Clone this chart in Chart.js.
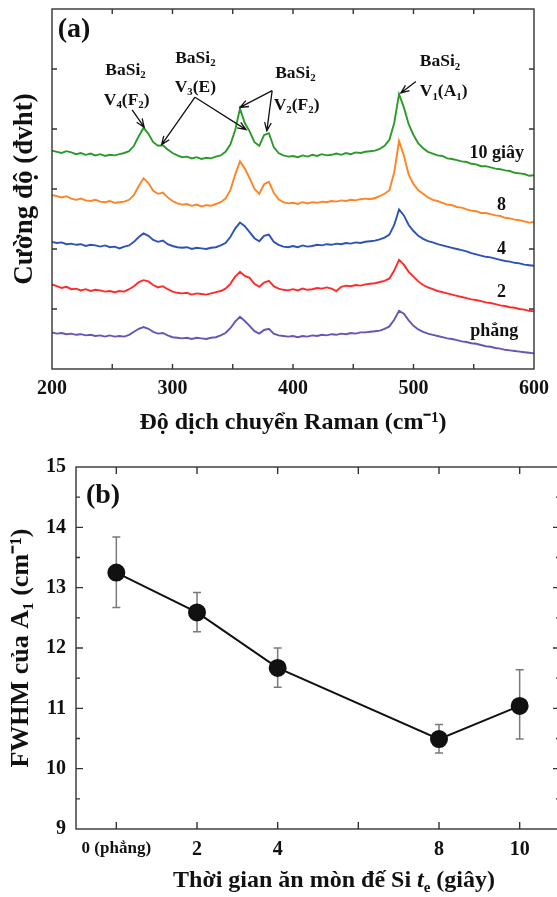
<!DOCTYPE html>
<html>
<head>
<meta charset="utf-8">
<script src="https://cdn.jsdelivr.net/npm/chart.js"></script>
<style>
  html, body { margin: 0; padding: 0; background: #fff; overflow: hidden; width: 557px; height: 897px; }
  #chartA { position: absolute; left: 0; top: 0; }
  #chartB { position: absolute; left: 0; top: 445px; }
</style>
</head>
<body>
<canvas id="chartA" width="557" height="445"></canvas>
<canvas id="chartB" width="575" height="452"></canvas>
<script>
// ---- panel (a): Raman spectra ----
const ramanShift = [
  200,204,208,212,216,220,224,228,232,236,
  240,244,248,252,256,260,264,268,272,276,
  280,284,288,292,296,300,304,308,312,316,
  320,324,328,332,336,340,344,348,352,356,
  360,364,368,372,376,380,384,388,392,396,
  400,404,408,412,416,420,424,428,432,436,
  440,444,448,452,456,460,464,468,472,476,
  480,484,488,492,496,500,504,508,512,516,
  520,524,528,532,536,540,544,548,552,556,
  560,564,568,572,576,580,584,588,592,596,
  600
];
const int10s = [
  3.64,3.62,3.60,3.63,3.61,3.58,3.60,3.57,3.59,3.56,
  3.58,3.55,3.57,3.56,3.58,3.60,3.63,3.72,3.88,4.02,
  3.92,3.78,3.72,3.73,3.66,3.60,3.56,3.53,3.54,3.51,
  3.53,3.50,3.52,3.51,3.54,3.56,3.62,3.74,3.98,4.34,
  4.10,3.96,3.78,3.72,3.90,3.93,3.70,3.60,3.56,3.54,
  3.55,3.53,3.56,3.54,3.57,3.55,3.58,3.56,3.57,3.59,
  3.57,3.60,3.58,3.61,3.60,3.62,3.63,3.64,3.67,3.72,
  3.82,4.10,4.58,4.36,4.08,3.90,3.76,3.68,3.62,3.59,
  3.56,3.55,3.51,3.50,3.48,3.46,3.45,3.42,3.41,3.38,
  3.38,3.36,3.34,3.33,3.31,3.30,3.27,3.26,3.25,3.22,
  3.23
];
const int8s = [
  2.90,2.88,2.86,2.88,2.84,2.82,2.84,2.81,2.80,2.82,
  2.79,2.78,2.80,2.77,2.78,2.79,2.82,2.90,3.05,3.18,
  3.10,2.97,2.92,2.94,2.86,2.80,2.76,2.74,2.75,2.72,
  2.74,2.71,2.73,2.72,2.75,2.78,2.84,2.98,3.24,3.46,
  3.34,3.18,3.00,2.92,3.08,3.12,2.94,2.83,2.78,2.76,
  2.77,2.75,2.78,2.76,2.78,2.77,2.79,2.78,2.80,2.79,
  2.81,2.80,2.82,2.81,2.83,2.84,2.83,2.85,2.88,2.92,
  2.98,3.28,3.80,3.56,3.24,3.08,2.98,2.92,2.86,2.82,
  2.80,2.77,2.74,2.73,2.70,2.69,2.66,2.64,2.63,2.60,
  2.60,2.58,2.56,2.55,2.52,2.51,2.49,2.48,2.46,2.44,
  2.45
];
const int4s = [
  2.12,2.10,2.11,2.08,2.09,2.07,2.08,2.05,2.07,2.06,
  2.04,2.06,2.03,2.04,2.01,2.04,2.06,2.12,2.20,2.26,
  2.22,2.15,2.12,2.14,2.08,2.05,2.03,2.02,2.03,2.00,
  2.02,2.01,2.00,2.02,2.03,2.06,2.10,2.20,2.34,2.44,
  2.38,2.28,2.18,2.13,2.22,2.24,2.12,2.07,2.04,2.03,
  2.05,2.03,2.06,2.04,2.05,2.07,2.06,2.08,2.07,2.09,
  2.08,2.10,2.09,2.11,2.10,2.12,2.13,2.14,2.16,2.19,
  2.24,2.40,2.66,2.56,2.40,2.30,2.22,2.17,2.13,2.11,
  2.08,2.06,2.04,2.02,2.00,1.98,1.96,1.93,1.91,1.89,
  1.87,1.86,1.84,1.82,1.80,1.79,1.77,1.76,1.74,1.73,
  1.72
];
const int2s = [
  1.41,1.38,1.35,1.37,1.33,1.34,1.31,1.33,1.30,1.32,
  1.31,1.29,1.30,1.28,1.30,1.29,1.33,1.38,1.45,1.48,
  1.46,1.40,1.36,1.38,1.33,1.29,1.27,1.26,1.27,1.24,
  1.26,1.25,1.24,1.26,1.28,1.30,1.34,1.42,1.54,1.62,
  1.55,1.52,1.42,1.37,1.44,1.47,1.38,1.34,1.32,1.31,
  1.33,1.31,1.34,1.32,1.33,1.35,1.34,1.36,1.34,1.30,
  1.37,1.39,1.38,1.40,1.39,1.41,1.42,1.43,1.45,1.47,
  1.51,1.64,1.82,1.74,1.62,1.54,1.46,1.40,1.36,1.33,
  1.30,1.28,1.26,1.24,1.22,1.20,1.18,1.16,1.15,1.13,
  1.11,1.10,1.08,1.06,1.05,1.03,1.02,1.00,0.99,0.97,
  0.96
];
const intFlat = [
  0.61,0.59,0.60,0.58,0.59,0.57,0.58,0.56,0.57,0.55,
  0.56,0.54,0.56,0.54,0.55,0.54,0.57,0.62,0.67,0.70,
  0.67,0.62,0.59,0.60,0.56,0.53,0.52,0.51,0.52,0.50,
  0.52,0.51,0.50,0.52,0.53,0.56,0.60,0.68,0.79,0.87,
  0.80,0.72,0.63,0.59,0.65,0.67,0.59,0.56,0.55,0.54,
  0.55,0.53,0.55,0.54,0.56,0.55,0.57,0.56,0.58,0.57,
  0.59,0.58,0.60,0.59,0.61,0.61,0.62,0.63,0.64,0.67,
  0.71,0.82,0.97,0.92,0.81,0.72,0.66,0.62,0.59,0.57,
  0.55,0.53,0.51,0.50,0.48,0.46,0.45,0.43,0.42,0.40,
  0.38,0.37,0.35,0.34,0.32,0.31,0.30,0.29,0.28,0.27,
  0.26
];
const seriesNames = ['10 giây', '8', '4', '2', 'phẳng'];
const seriesValues = [int10s, int8s, int4s, int2s, intFlat];
const seriesColors = ['#2b9a2b', '#ff8424', '#2a52b8', '#ff2a2a', '#6a52b6'];

// ---- panel (b): FWHM of A1 ----
const etchTime = [0, 2, 4, 8, 10];
const fwhm = [13.25, 12.59, 11.67, 10.49, 11.04];
const fwhmHigh = [13.84, 12.92, 12.00, 10.73, 11.64];
const fwhmLow = [12.67, 12.27, 11.35, 10.26, 10.49];
const etchTicks = [0, 2, 4, 6, 8, 10];

const serif = "'Liberation Serif', 'Times New Roman', serif";
const ink = '#111';

function drawRich(ctx, segs, cx, cy, size, rot) {
  const fontOf = m => {
    const sz = (m === 'sub' || m === 'sup') ? size * 0.62 : size;
    return (m === 'it' ? 'italic ' : '') + 'bold ' + sz + 'px ' + serif;
  };
  let total = 0;
  segs.forEach(s => { ctx.font = fontOf(s[1]); total += ctx.measureText(s[0]).width; });
  ctx.save();
  ctx.translate(cx, cy);
  if (rot) ctx.rotate(rot);
  ctx.textBaseline = 'middle';
  ctx.textAlign = 'left';
  ctx.fillStyle = ink;
  let x = -total / 2;
  segs.forEach(s => {
    ctx.font = fontOf(s[1]);
    const dy = s[1] === 'sub' ? size * 0.3 : (s[1] === 'sup' ? -size * 0.35 : 0);
    ctx.fillText(s[0], x, dy);
    x += ctx.measureText(s[0]).width;
  });
  ctx.restore();
}

function drawArrow(ctx, x1, y1, x2, y2) {
  const ang = Math.atan2(y2 - y1, x2 - x1);
  const len = 9, spread = 0.38;
  ctx.beginPath();
  ctx.moveTo(x1, y1);
  ctx.lineTo(x2, y2);
  ctx.moveTo(x2 - len * Math.cos(ang - spread), y2 - len * Math.sin(ang - spread));
  ctx.lineTo(x2, y2);
  ctx.lineTo(x2 - len * Math.cos(ang + spread), y2 - len * Math.sin(ang + spread));
  ctx.stroke();
}

// box and inward ticks
function drawFrame(chart, xVals, yMajor, yMinor, majorLen, minorLen) {
  const { ctx, chartArea: a, scales: { x, y } } = chart;
  ctx.save();
  ctx.strokeStyle = '#333';
  ctx.lineWidth = 1.4;
  ctx.strokeRect(a.left, a.top, a.right - a.left, a.bottom - a.top);
  ctx.beginPath();
  xVals.forEach(v => {
    const px = x.getPixelForValue(v);
    ctx.moveTo(px, a.bottom); ctx.lineTo(px, a.bottom - majorLen);
    ctx.moveTo(px, a.top); ctx.lineTo(px, a.top + majorLen);
  });
  yMajor.forEach(v => {
    const py = y.getPixelForValue(v);
    ctx.moveTo(a.left, py); ctx.lineTo(a.left + majorLen, py);
    ctx.moveTo(a.right, py); ctx.lineTo(a.right - majorLen, py);
  });
  yMinor.forEach(v => {
    const py = y.getPixelForValue(v);
    ctx.moveTo(a.left, py); ctx.lineTo(a.left + minorLen, py);
    ctx.moveTo(a.right, py); ctx.lineTo(a.right - minorLen, py);
  });
  ctx.stroke();
  ctx.restore();
}

const peakLabels = [
  { x: 261, y: 4.98, segs: [['BaSi'], ['2', 'sub']] },
  { x: 262, y: 4.48, segs: [['V'], ['4', 'sub'], ['(F'], ['2', 'sub'], [')']] },
  { x: 319, y: 5.18, segs: [['BaSi'], ['2', 'sub']] },
  { x: 319, y: 4.70, segs: [['V'], ['3', 'sub'], ['(E)']] },
  { x: 402, y: 4.93, segs: [['BaSi'], ['2', 'sub']] },
  { x: 403, y: 4.40, segs: [['V'], ['2', 'sub'], ['(F'], ['2', 'sub'], [')']] },
  { x: 522, y: 5.12, segs: [['BaSi'], ['2', 'sub']] },
  { x: 525, y: 4.62, segs: [['V'], ['1', 'sub'], ['(A'], ['1', 'sub'], [')']] }
];
const peakArrows = [
  [266.5, 4.32, 276.5, 4.03],
  [318.7, 4.53, 291, 3.74],
  [318.7, 4.53, 361, 3.99],
  [382.7, 4.64, 356, 4.36],
  [382.7, 4.64, 378.3, 3.97],
  [502, 4.79, 489.5, 4.60]
];
const seriesLabelPos = [[569, 3.60], [573, 2.73], [573, 2.00], [573, 1.27], [567, 0.62]];

const frameA = {
  id: 'frameA',
  afterDraw(chart) {
    const { ctx, scales: { x, y } } = chart;
    drawFrame(chart, [250, 300, 350, 400, 450, 500, 550], [1, 2, 3, 4, 5], [], 5, 0);
    ctx.save();
    ctx.fillStyle = ink;
    ctx.font = 'bold 28px ' + serif;
    ctx.textAlign = 'center';
    ctx.textBaseline = 'middle';
    ctx.fillText('(a)', 74, 30);
    peakLabels.forEach(l => drawRich(ctx, l.segs, x.getPixelForValue(l.x), y.getPixelForValue(l.y), 17.5));
    ctx.strokeStyle = ink;
    ctx.lineWidth = 1.3;
    peakArrows.forEach(p => drawArrow(ctx, x.getPixelForValue(p[0]), y.getPixelForValue(p[1]),
      x.getPixelForValue(p[2]), y.getPixelForValue(p[3])));
    ctx.font = 'bold 18px ' + serif;
    ctx.textAlign = 'center';
    seriesNames.forEach((n, i) => {
      ctx.fillText(n, x.getPixelForValue(seriesLabelPos[i][0]), y.getPixelForValue(seriesLabelPos[i][1]));
    });
    ctx.restore();
  }
};

new Chart(document.getElementById('chartA'), {
  type: 'line',
  data: {
    datasets: seriesNames.map((n, i) => ({
      label: n,
      data: ramanShift.map((v, j) => ({ x: v, y: seriesValues[i][j] })),
      borderColor: seriesColors[i],
      borderWidth: 1.9,
      pointRadius: 0,
      tension: 0,
      fill: false
    }))
  },
  options: {
    responsive: false,
    animation: false,
    layout: { padding: { top: 9, right: 16, left: 0, bottom: 0 } },
    plugins: { legend: { display: false }, tooltip: { enabled: false } },
    scales: {
      x: {
        type: 'linear', min: 200, max: 600,
        ticks: { stepSize: 100, maxRotation: 0, padding: 8, color: ink, font: { family: serif, size: 20, weight: 'bold' } },
        grid: { display: false, drawTicks: false },
        border: { display: false },
        title: { display: true, text: 'Độ dịch chuyển Raman (cm⁻¹)', color: ink,
          font: { family: serif, size: 24, weight: 'bold' }, padding: { top: 0, bottom: 8 } },
        afterFit: s => { s.height = 76; }
      },
      y: {
        min: 0, max: 6,
        ticks: { display: false },
        grid: { display: false, drawTicks: false },
        border: { display: false },
        title: { display: true, text: 'Cường độ (đvht)', color: ink,
          font: { family: serif, size: 27, weight: 'bold' }, padding: { top: 9, bottom: 0 } },
        afterFit: s => { s.width = 52; }
      }
    }
  },
  plugins: [frameA]
});

const frameB = {
  id: 'frameB',
  beforeDatasetsDraw(chart) {
    const { ctx, scales: { x, y } } = chart;
    ctx.save();
    ctx.strokeStyle = '#7a7a7a';
    ctx.lineWidth = 1.5;
    ctx.beginPath();
    etchTime.forEach((t, i) => {
      const px = x.getPixelForValue(t);
      const hi = y.getPixelForValue(fwhmHigh[i]);
      const lo = y.getPixelForValue(fwhmLow[i]);
      ctx.moveTo(px, hi); ctx.lineTo(px, lo);
      ctx.moveTo(px - 4, hi); ctx.lineTo(px + 4, hi);
      ctx.moveTo(px - 4, lo); ctx.lineTo(px + 4, lo);
    });
    ctx.stroke();
    ctx.restore();
  },
  afterDraw(chart) {
    const { ctx } = chart;
    drawFrame(chart, etchTicks, [10, 11, 12, 13, 14], [9.5, 10.5, 11.5, 12.5, 13.5, 14.5], 7, 4);
    ctx.save();
    ctx.fillStyle = ink;
    ctx.font = 'bold 28px ' + serif;
    ctx.textAlign = 'center';
    ctx.textBaseline = 'middle';
    ctx.fillText('(b)', 103, 51);
    ctx.restore();
    drawRich(ctx, [['Thời gian ăn mòn đế Si '], ['t', 'it'], ['e', 'sub'], [' (giây)']], 334, 436, 24);
  }
};

new Chart(document.getElementById('chartB'), {
  type: 'line',
  data: {
    datasets: [{
      label: 'FWHM',
      data: etchTime.map((t, i) => ({ x: t, y: fwhm[i] })),
      borderColor: ink,
      borderWidth: 2,
      pointRadius: 8,
      pointBackgroundColor: ink,
      pointBorderColor: ink,
      tension: 0,
      fill: false
    }]
  },
  options: {
    responsive: false,
    animation: false,
    layout: { padding: { top: 22, right: 15, left: 0, bottom: 0 } },
    plugins: { legend: { display: false }, tooltip: { enabled: false } },
    scales: {
      x: {
        type: 'linear', min: -1, max: 11,
        afterBuildTicks: s => { s.ticks = etchTicks.map(v => ({ value: v })); },
        ticks: {
          maxRotation: 0, padding: 9, color: ink, autoSkip: false,
          callback: v => v === 0 ? '0 (phẳng)' : (v === 6 ? '' : String(v)),
          font: c => ({ family: serif, size: (c.tick && c.tick.value === 0) ? 17 : 20, weight: 'bold' })
        },
        grid: { display: false, drawTicks: false },
        border: { display: false },
        title: { display: false },
        afterFit: s => { s.height = 68; }
      },
      y: {
        min: 9, max: 15,
        ticks: { stepSize: 1, padding: 10, color: ink, font: { family: serif, size: 20, weight: 'bold' } },
        grid: { display: false, drawTicks: false },
        border: { display: false },
        title: { display: true, text: 'FWHM của A₁ (cm⁻¹)', color: ink,
          font: { family: serif, size: 26, weight: 'bold' }, padding: { top: 6, bottom: 0 } },
        afterFit: s => { s.width = 76; }
      }
    }
  },
  plugins: [frameB]
});
</script>
</body>
</html>
